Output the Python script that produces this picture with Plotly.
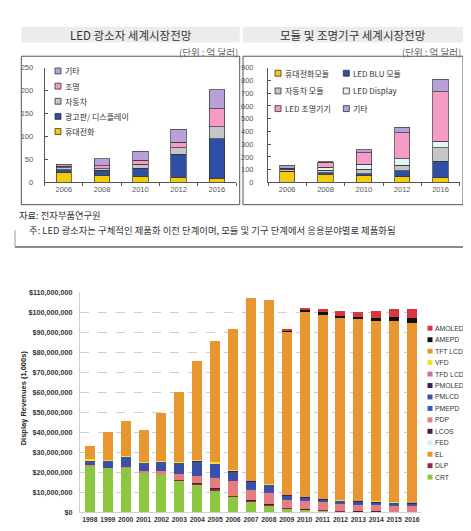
import plotly.graph_objects as go

W, H = 471, 531

# ---------------- Top-left: LED 광소자 세계시장전망 (억 달러) ----------------
led_years = ["2006", "2008", "2010", "2012", "2016"]
led_names = ["휴대전화", "광고판/ 디스플레이", "자동차", "조명", "기타"]
led_mobile = [21, 16, 13, 11, 9]
led_display = [7, 10.5, 18, 50, 86]
led_auto = [4, 3.5, 8, 14, 26]
led_light = [3, 6, 9, 13, 40]
led_other = [4, 15, 20, 28, 41]
led_colors = ["#F5CC0A", "#2F4FA6", "#C6C6C6", "#F59CC6", "#B9A0D8"]
led_yticks = [0, 50, 100, 150, 200, 250]

# ---------------- Top-right: 모듈 및 조명기구 세계시장전망 (억 달러) ----------------
mod_years = ["2006", "2008", "2010", "2012", "2016"]
mod_names = ["휴대전화모듈", "LED BLU 모듈", "자동차 모듈", "LED Display", "LED 조명기기", "기타"]
mod_mobile = [82, 64, 52, 46, 38]
mod_blu = [4, 10, 17, 44, 129]
mod_auto = [18, 23, 34, 43, 103]
mod_disp = [4, 22, 38, 52, 51]
mod_light = [4, 38, 90, 205, 391]
mod_other = [24, 4, 24, 44, 98]
mod_colors = ["#F5CC0A", "#2F4FA6", "#C6C6C6", "#E2F6F8", "#F59CC6", "#B9A0D8"]
mod_yticks = [0, 100, 200, 300, 400, 500, 600, 700, 800, 900]

# ---------------- Bottom: Display revenues (1,000s), values in millions ----------------
disp_years = [str(y) for y in range(1998, 2017)]
crt = [23.2, 22.1, 22.1, 19.6, 19.0, 15.6, 13.8, 11.0, 7.7, 5.2, 3.3, 1.6, 1.1, 0.7, 0.5, 0.3, 0.2, 0.1, 0.1]
dlp = [0, 0, 0.3, 0, 0, 0.5, 0.6, 0.7, 0.8, 0.6, 0.5, 0.5, 0.3, 0.4, 0.3, 0.2, 0.2, 0.2, 0.2]
el = [0.1, 0.1, 0.1, 0.1, 0.1, 0.1, 0.1, 0.1, 0.1, 0.1, 0.1, 0, 0, 0, 0, 0, 0, 0, 0]
fed = [0, 0, 0, 0, 0, 0, 0, 0, 0, 0, 0, 0, 0, 0, 0, 0, 0, 0, 0]
lcos = [0, 0, 0, 0, 0, 0.1, 0.2, 0.2, 0.3, 0.2, 0.1, 0.2, 0.1, 0.1, 0.1, 0.1, 0.1, 0.1, 0.1]
pdp = [0.2, 0.2, 0.3, 0.9, 1.8, 2.9, 3.6, 5.5, 6.7, 5.2, 5.7, 4.0, 4.2, 3.9, 3.5, 3.3, 3.2, 3.0, 3.0]
pmepd = [0, 0, 0, 0, 0, 0, 0, 0.3, 0.3, 0.3, 0.3, 0.3, 0.3, 0.3, 0.3, 0.3, 0.3, 0.3, 0.3]
pmlcd = [2.5, 3.3, 5.0, 4.3, 4.5, 5.4, 7.1, 6.3, 4.6, 3.7, 3.6, 1.8, 1.4, 1.0, 1.0, 1.1, 1.0, 0.9, 0.7]
pmoled = [0, 0, 0, 0, 0, 0.3, 0.3, 0.3, 0.3, 0.3, 0.3, 0.3, 0.3, 0.3, 0.3, 0.3, 0.3, 0.3, 0.3]
tfd = [0, 0, 0, 0, 0, 0, 0, 0, 0, 0, 0, 0, 0, 0, 0, 0, 0, 0, 0]
vfd = [0.5, 0.4, 0.5, 0.4, 0.4, 0.4, 0.5, 0.6, 0.3, 0.3, 0.3, 0.2, 0.2, 0.2, 0.2, 0.2, 0.2, 0.2, 0.2]
tft = [6.9, 13.8, 17.5, 16.0, 24.0, 34.8, 49.4, 60.5, 70.4, 91.3, 91.8, 81.4, 92.3, 91.7, 90.7, 90.6, 90.3, 90.7, 89.9]
amepd = [0, 0, 0, 0, 0, 0, 0, 0, 0, 0, 0, 0.3, 1.1, 1.6, 1.2, 1.3, 1.1, 1.6, 2.1]
amoled = [0, 0, 0, 0, 0, 0, 0, 0, 0, 0, 0, 0.5, 0.9, 1.6, 2.4, 2.5, 3.6, 4.1, 4.9]
disp_names = ["CRT", "DLP", "EL", "FED", "LCOS", "PDP", "PMEPD", "PMLCD", "PMOLED",
              "TFD LCD", "VFD", "TFT LCD", "AMEPD", "AMOLED"]
disp_colors = ["#8DC641", "#8B2B55", "#E8922E", "#D5ECF0", "#4B1D33", "#E47C80", "#2E5EC0",
               "#3B4FA8", "#2B2660", "#C86DB8", "#EEE622", "#E8962F", "#111111", "#D9373E"]
disp_yticks = [i * 10_000_000 for i in range(12)]
disp_ytext = ["$" + format(v, ",d") for v in disp_yticks]


def px(x):
    return x / W


def py(y):
    return 1 - y / H


fig = go.Figure()

led_vals = [led_mobile, led_display, led_auto, led_light, led_other]
for name, vals, col in zip(led_names, led_vals, led_colors):
    fig.add_trace(go.Bar(x=led_years, y=vals, name=name, marker_color=col,
                         marker_line=dict(color="#333", width=0.7), width=0.4,
                         xaxis="x", yaxis="y", showlegend=False))

mod_vals = [mod_mobile, mod_blu, mod_auto, mod_disp, mod_light, mod_other]
for name, vals, col in zip(mod_names, mod_vals, mod_colors):
    fig.add_trace(go.Bar(x=mod_years, y=vals, name=name, marker_color=col,
                         marker_line=dict(color="#333", width=0.7), width=0.4,
                         xaxis="x2", yaxis="y2", showlegend=False))

disp_vals = [crt, dlp, el, fed, lcos, pdp, pmepd, pmlcd, pmoled, tfd, vfd, tft, amepd, amoled]
for name, vals, col in zip(disp_names, disp_vals, disp_colors):
    fig.add_trace(go.Bar(x=disp_years, y=[v * 1e6 for v in vals], name=name, marker_color=col,
                         marker_line_width=0, width=0.56,
                         xaxis="x3", yaxis="y3", showlegend=False))

small_font = dict(family="Liberation Sans, Arial", size=7.5, color="#555")
bold_font = dict(family="Liberation Sans, Arial", size=7.2, color="#333", weight="bold")

top_x = dict(type="category", range=[-0.5, 4.5], showline=True, linecolor="#555", linewidth=1,
             ticks="outside", tickson="boundaries", ticklen=3, tickcolor="#555",
             tickfont=small_font, showgrid=False, zeroline=False, fixedrange=True)
top_y = dict(showline=True, linecolor="#555", linewidth=1, ticks="inside", ticklen=3,
             tickcolor="#555", tickfont=small_font, showgrid=False, zeroline=False)

fig.update_layout(
    width=W, height=H, margin=dict(l=0, r=0, t=0, b=0),
    paper_bgcolor="white", plot_bgcolor="white",
    barmode="stack", showlegend=False,
    xaxis=dict(top_x, domain=[px(36.7), px(228)], anchor="y"),
    yaxis=dict(top_y, domain=[py(173.3), py(56.7)], anchor="x", range=[0, 250],
               tickvals=led_yticks, ticklabelstandoff=9),
    xaxis2=dict(top_x, domain=[px(260), px(451.7)], anchor="y2"),
    yaxis2=dict(top_y, domain=[py(173.3), py(56.7)], anchor="x2", range=[0, 900],
                tickvals=mod_yticks, ticklabelstandoff=12),
    xaxis3=dict(type="category", domain=[px(72), px(413)], anchor="y3", range=[-0.55, 18.5],
                showline=True, linecolor="#d0d0d0", ticks="", tickfont=dict(bold_font, size=6.8),
                showgrid=False, zeroline=False),
    yaxis3=dict(domain=[py(509), py(285)], anchor="x3", range=[0, 110_000_000],
                tickvals=disp_yticks, ticktext=disp_ytext, tickfont=bold_font,
                showgrid=True, gridcolor="#cfcfcf", griddash="dash", gridwidth=1,
                showline=True, linecolor="#d0d0d0", zeroline=False, ticks="",
                ticklabelstandoff=5),
)

shapes = []
annotations = []
kr = "Noto Sans CJK KR"

# header bands and boxes
for (x0, x1), title in [((13.3, 231.7), "LED 광소자 세계시장전망"),
                        ((235, 455), "모듈 및 조명기구 세계시장전망")]:
    shapes.append(dict(type="rect", xref="paper", yref="paper", x0=px(x0), x1=px(x1),
                       y0=py(31), y1=py(15), fillcolor="#ececec", line_width=0, layer="below"))
    shapes.append(dict(type="rect", xref="paper", yref="paper", x0=px(x0), x1=px(x1),
                       y0=py(196), y1=py(45), line=dict(color="#555", width=1)))
    annotations.append(dict(xref="paper", yref="paper", x=px((x0 + x1) / 2), y=py(23),
                            text=title, showarrow=False, xanchor="center", yanchor="middle",
                            font=dict(family=kr, size=11.5, color="#333")))
    annotations.append(dict(xref="paper", yref="paper", x=px(x1), y=py(40.5),
                            text="(단위 : 억 달러)", showarrow=False, xanchor="right",
                            yanchor="middle", font=dict(family=kr, size=9.5, color="#666")))

# outer frame (shadow lines)
shapes.append(dict(type="line", xref="paper", yref="paper", x0=px(461), x1=px(461),
                   y0=py(5), y1=py(239), line=dict(color="#666", width=1.5)))
shapes.append(dict(type="line", xref="paper", yref="paper", x0=px(7), x1=px(461),
                   y0=py(239), y1=py(239), line=dict(color="#666", width=1.5)))
shapes.append(dict(type="line", xref="paper", yref="paper", x0=px(7), x1=px(7),
                   y0=py(222), y1=py(239), line=dict(color="#999", width=1)))

annotations.append(dict(xref="paper", yref="paper", x=px(9), y=py(206), text="자료: 전자부품연구원",
                        showarrow=False, xanchor="left", yanchor="middle",
                        font=dict(family=kr, size=9.3, color="#333")))
annotations.append(dict(xref="paper", yref="paper", x=px(19), y=py(221.7),
                        text="주: LED 광소자는 구체적인 제품화 이전 단계이며, 모듈 및 기구 단계에서 응용분야별로 제품화됨",
                        showarrow=False, xanchor="left", yanchor="middle",
                        font=dict(family=kr, size=9.4, color="#333")))

# top-left legend (reversed order: 기타 on top)
for row, i in enumerate(reversed(range(len(led_names)))):
    yc = 60 + row * 15.4
    shapes.append(dict(type="rect", xref="paper", yref="paper", x0=px(47), x1=px(53),
                       y0=py(yc + 3), y1=py(yc - 3), fillcolor=led_colors[i],
                       line=dict(color="#333", width=0.8)))
    annotations.append(dict(xref="paper", yref="paper", x=px(54.5), y=py(yc), text=led_names[i],
                            showarrow=False, xanchor="left", yanchor="middle",
                            font=dict(family=kr, size=8, color="#333")))

# top-right legend (two columns)
for i, name in enumerate(mod_names):
    row, colm = divmod(i, 2)
    yc = 62.3 + row * 18
    xm = 270 if colm == 0 else 338.3
    shapes.append(dict(type="rect", xref="paper", yref="paper", x0=px(xm - 3), x1=px(xm + 3),
                       y0=py(yc + 3), y1=py(yc - 3), fillcolor=mod_colors[i],
                       line=dict(color="#333", width=0.8)))
    annotations.append(dict(xref="paper", yref="paper", x=px(xm + 4.5), y=py(yc), text=name,
                            showarrow=False, xanchor="left", yanchor="middle",
                            font=dict(family=kr, size=8, color="#333")))

# bottom legend (reversed order: AMOLED on top)
for row, i in enumerate(reversed(range(len(disp_names)))):
    yc = 321.7 + row * 11.65
    shapes.append(dict(type="rect", xref="paper", yref="paper", x0=px(419.5), x1=px(424.5),
                       y0=py(yc + 2.5), y1=py(yc - 2.5), fillcolor=disp_colors[i], line_width=0))
    annotations.append(dict(xref="paper", yref="paper", x=px(425), y=py(yc), text=disp_names[i],
                            showarrow=False, xanchor="left", yanchor="middle",
                            font=dict(family="Liberation Sans, Arial", size=6.8, color="#333")))

annotations.append(dict(xref="paper", yref="paper", x=px(15), y=py(393),
                        text="Display Revenues (1,000s)", textangle=-90, showarrow=False,
                        xanchor="center", yanchor="middle",
                        font=dict(family="Liberation Sans, Arial", size=7.5, color="#222",
                                  weight="bold")))

fig.update_layout(shapes=shapes, annotations=annotations)
fig.write_html("out.html")
